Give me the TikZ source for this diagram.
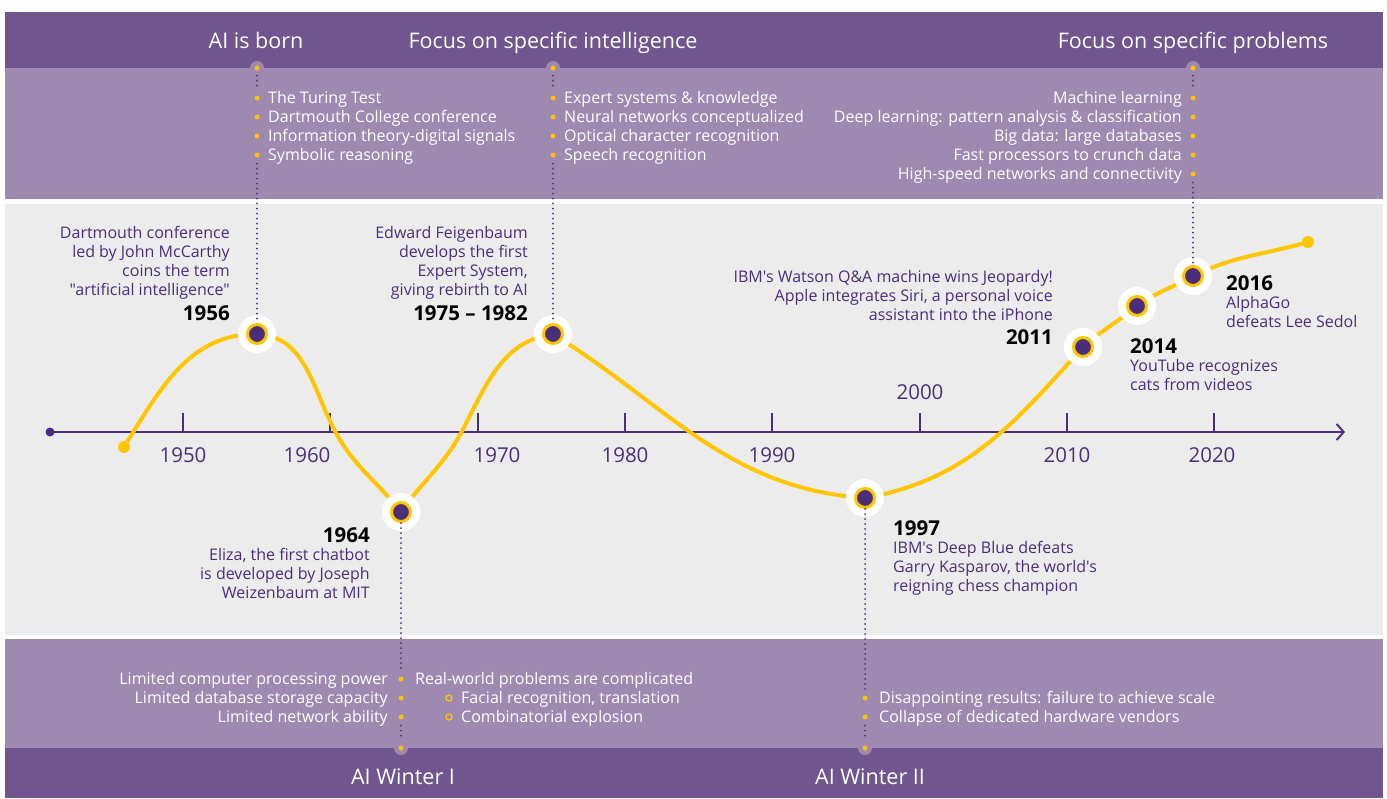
\documentclass[tikz,border=0pt]{standalone}
\usepackage{fontspec}
\setmainfont{Open Sans}[Ligatures=TeXOff]
\usetikzlibrary{positioning,arrows.meta}

\definecolor{bandDark}{RGB}{112,85,142}
\definecolor{bandLight}{RGB}{158,137,177}
\definecolor{panelGray}{RGB}{236,236,236}
\definecolor{aiPurple}{RGB}{75,46,122}
\definecolor{aiYellow}{RGB}{255,198,0}

\tikzset{
  era/.style={text=white,inner sep=0pt,anchor=base,font=\fontsize{21.5}{24}\selectfont},
  item/.style={text=white,inner sep=0pt,font=\fontsize{16}{19}\selectfont},
  desc/.style={text=aiPurple,inner sep=0pt,font=\fontsize{16}{19}\selectfont},
  year/.style={text=black,inner sep=0pt,font=\bfseries\fontsize{20.5}{23}\selectfont},
  yearlbl/.style={text=aiPurple,inner sep=0pt,font=\fontsize{20.5}{23}\selectfont},
  axis/.style={aiPurple,line width=2pt},
  curve/.style={aiYellow,line width=4pt},
  halo/.style={circle,fill=white,minimum size=38pt,inner sep=0pt},
  core/.style={circle,fill=aiPurple,draw=aiYellow,line width=3pt,minimum size=19pt,inner sep=0pt},
  bul/.style={circle,fill=aiYellow,minimum size=5pt,inner sep=0pt},
  subbul/.style={circle,draw=aiYellow,line width=1.3pt,minimum size=6pt,inner sep=0pt},
  bump/.style={circle,fill=bandLight,minimum size=14pt,inner sep=0pt},
  dots/.style={aiPurple,line width=2pt,line cap=round,dash pattern=on 0pt off 5pt},
}

\begin{document}
\begin{tikzpicture}[x=1pt,y=1pt]
\useasboundingbox (0,0) rectangle (1387,-798);

% bands
\fill[bandDark] (5,-12) rectangle (1383,-68);
\fill[bandLight] (5,-68) rectangle (1383,-199);
\fill[panelGray] (5,-204) rectangle (1383,-635);
\fill[bandLight] (5,-639) rectangle (1383,-748);
\fill[bandDark] (5,-748) rectangle (1383,-798);

% era titles
\node[era] (born) at (256,-48) {AI is born};
\node[era] (intel) at (553,-48) {Focus on specific intelligence};
\node[era] (probs) at (1193,-48) {Focus on specific problems};
\node[era] (win1) at (403,-784) {AI Winter I};
\node[era] (win2) at (870,-784) {AI Winter II};

% time axis
\node[circle,fill=aiPurple,minimum size=9pt,inner sep=0pt] (ax0) at (50,-432) {};
\coordinate (ax1) at (1345,-432);
\draw[axis,-{Straight Barb[length=7pt,width=16pt]}] (ax0.center) -- (ax1);
\foreach \x/\yr/\lx/\ly in {183/1950/183/-455, 330/1960/307/-455, 478/1970/497/-455,
    625/1980/625/-455, 772/1990/772/-455, 920/2000/920/-392, 1067/2010/1067/-455, 1214/2020/1212/-455}{
  \draw[axis,line width=1.5pt] (\x,-413) -- (\x,-432);
  \node[yearlbl] at (\lx,\ly) {\yr};
}

% the curve
\coordinate (c0) at (124,-447);
\coordinate (p56) at (257,-334);
\coordinate (x1) at (335,-431);
\coordinate (p64) at (401,-512);
\coordinate (x2) at (462,-431);
\coordinate (p75) at (553,-334);
\coordinate (p97) at (865,-498);
\coordinate (p11) at (1083,-347);
\coordinate (p14) at (1137,-306);
\coordinate (p16) at (1193,-276);
\coordinate (c1) at (1308,-242);
\draw[curve] (c0) to[out=58,in=180] (p56) to[out=-3,in=118] (x1) to[out=-62,in=128] (p64)
  to[out=55,in=242] (x2) to[out=62,in=188] (p75)
  to[out=-32,in=176] (p97) to[out=10,in=228] (p11) to[out=42,in=220] (p14)
  to[out=36,in=210] (p16) to[out=26,in=196] (c1);
\fill[aiYellow] (c0) circle (6pt);
\fill[aiYellow] (c1) circle (6pt);

% milestones
\foreach \m in {56,64,75,97,11,14,16}{
  \node[halo] (h\m) at (p\m) {};
  \node[core] (k\m) at (p\m) {};
}

% band links
\node[bump] at (257,-68) {};
\node[bump] at (553,-68) {};
\node[bump] at (1193,-68) {};
\node[bump] at (401,-748) {};
\node[bump] at (865,-748) {};
\node[bul] (t56) at (257,-68) {};
\node[bul] (t75) at (553,-68) {};
\node[bul] (t16) at (1193,-68) {};
\node[bul] (t64) at (401,-748) {};
\node[bul] (t97) at (865,-748) {};

% AI is born
\foreach \txt [count=\n] in {The Turing Test, Dartmouth College conference,
    Information theory-digital signals, Symbolic reasoning}{
  \node[bul] (b56\n) at (257,-79-19*\n) {};
  \node[item,anchor=base west] at ([xshift=11pt,yshift=-5pt]b56\n.center) {\txt};
}
% specific intelligence
\foreach \txt [count=\n] in {Expert systems \& knowledge, Neural networks conceptualized,
    Optical character recognition, Speech recognition}{
  \node[bul] (b75\n) at (553,-79-19*\n) {};
  \node[item,anchor=base west] at ([xshift=11pt,yshift=-5pt]b75\n.center) {\txt};
}
% specific problems
\foreach \txt [count=\n] in {Machine learning, Deep learning: pattern analysis \& classification,
    Big data: large databases, Fast processors to crunch data, High-speed networks and connectivity}{
  \node[bul] (b16\n) at (1193,-79-19*\n) {};
  \node[item,anchor=base east] at ([xshift=-11pt,yshift=-5pt]b16\n.center) {\txt};
}
% winter I
\foreach \txt [count=\n] in {Limited computer processing power, Limited database storage capacity,
    Limited network ability}{
  \node[bul] (w64\n) at (401,-660-19*\n) {};
  \node[item,anchor=base east] at ([xshift=-13pt,yshift=-5pt]w64\n.center) {\txt};
}
\node[item,anchor=base west] at ([xshift=14pt,yshift=-5pt]w641.center) {Real-world problems are complicated};
\node[subbul] (s1) at (449,-698) {};
\node[subbul] (s2) at (449,-717) {};
\node[item,anchor=base west] at ([xshift=12pt,yshift=-5pt]s1.center) {Facial recognition, translation};
\node[item,anchor=base west] at ([xshift=12pt,yshift=-5pt]s2.center) {Combinatorial explosion};
% winter II
\foreach \txt [count=\n] in {Disappointing results: failure to achieve scale,
    Collapse of dedicated hardware vendors}{
  \node[bul] (w97\n) at (865,-679-19*\n) {};
  \node[item,anchor=base west] at ([xshift=14pt,yshift=-5pt]w97\n.center) {\txt};
}

% dotted leaders
\draw[dots,shorten <=5pt,shorten >=5pt] (t56) -- (b561);
\draw[dots,shorten <=6pt] (b564) -- (k56);
\draw[dots,shorten <=5pt,shorten >=5pt] (t75) -- (b751);
\draw[dots,shorten <=6pt] (b754) -- (k75);
\draw[dots,shorten <=5pt,shorten >=5pt] (t16) -- (b161);
\draw[dots,shorten <=6pt] (b165) -- (k16);
\draw[dots,shorten >=6pt] (k64) -- (w641);
\draw[dots,shorten <=6pt,shorten >=5pt] (w643) -- (t64);
\draw[dots,shorten >=6pt] (k97) -- (w971);
\draw[dots,shorten <=6pt,shorten >=5pt] (w972) -- (t97);

% events
\node[year,anchor=base east] (y56) at (230,-320) {1956};
\node[desc,align=right,above=5pt of y56.north east,anchor=south east] (d56)
  {Dartmouth conference\\led by John McCarthy\\coins the term\\"artificial intelligence"};
\node[year,anchor=base east] (y75) at (528,-320) {1975 – 1982};
\node[desc,align=right,above=5pt of y75.north east,anchor=south east] (d75)
  {Edward Feigenbaum\\develops the first\\Expert System,\\giving rebirth to AI};
\node[year,anchor=base east] (y11) at (1053,-344) {2011};
\node[desc,align=right,above=8pt of y11.north east,anchor=south east] (d11)
  {IBM's Watson Q\&A machine wins Jeopardy!\\Apple integrates Siri, a personal voice\\assistant into the iPhone};
\node[year,anchor=base west] (y14) at (1130,-353) {2014};
\node[desc,align=left,below=6pt of y14.south west,anchor=north west] (d14)
  {YouTube recognizes\\cats from videos};
\node[year,anchor=base west] (y16) at (1226,-290) {2016};
\node[desc,align=left,below=6pt of y16.south west,anchor=north west] (d16)
  {AlphaGo\\defeats Lee Sedol};
\node[year,anchor=base east] (y64) at (370,-542) {1964};
\node[desc,align=right,below=6pt of y64.south east,anchor=north east] (d64)
  {Eliza, the first chatbot\\is developed by Joseph\\Weizenbaum at MIT};
\node[year,anchor=base west] (y97) at (893,-535) {1997};
\node[desc,align=left,below=6pt of y97.south west,anchor=north west] (d97)
  {IBM's Deep Blue defeats\\Garry Kasparov, the world's\\reigning chess champion};
\end{tikzpicture}
\end{document}
